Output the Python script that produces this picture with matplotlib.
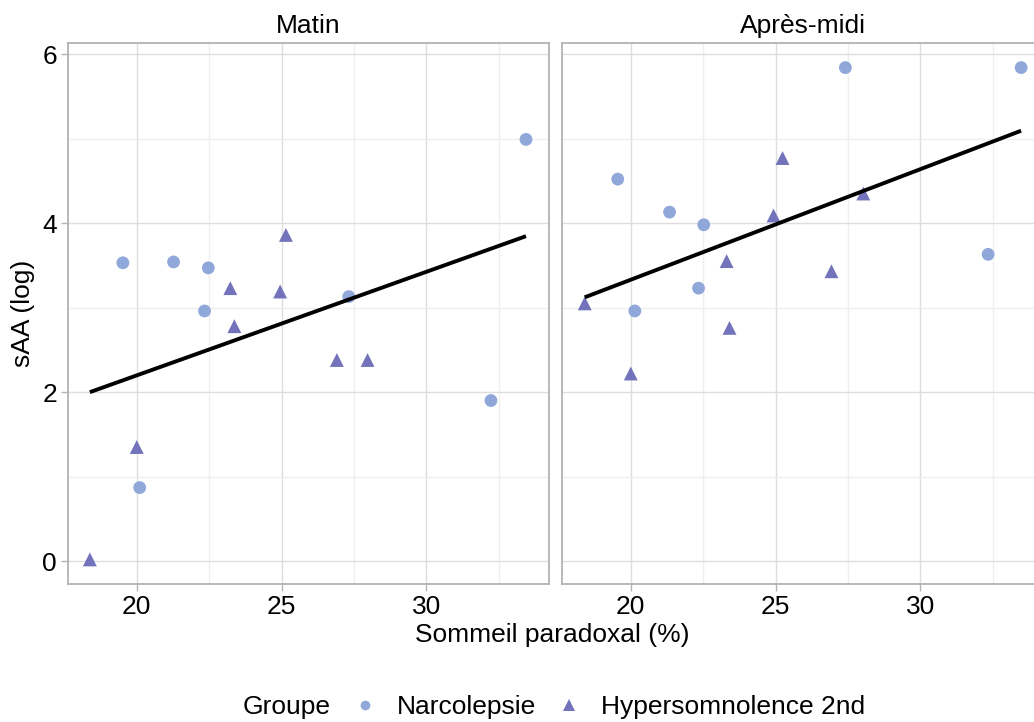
import numpy as np
import matplotlib
matplotlib.use("Agg")
import matplotlib.pyplot as plt
from matplotlib.lines import Line2D
from matplotlib.ticker import MultipleLocator

plt.rcParams['font.family'] = ['Liberation Sans', 'DejaVu Sans']

# ---- data ----
panels = ["Matin", "Après-midi"]
groups = ["Narcolepsie", "Hypersomnolence 2nd"]

# Matin
matin_narco_x = [19.52, 21.27, 22.47, 22.34, 27.32, 33.44, 32.23, 20.10]
matin_narco_y = [3.53, 3.54, 3.47, 2.96, 3.13, 4.99, 1.90, 0.87]
matin_hyper_x = [18.38, 20.00, 23.23, 23.37, 24.95, 25.15, 26.91, 27.97]
matin_hyper_y = [0.02, 1.35, 3.23, 2.78, 3.19, 3.86, 2.38, 2.38]

# Après-midi
am_narco_x = [19.55, 21.34, 22.52, 22.34, 20.14, 27.41, 33.48, 32.34]
am_narco_y = [4.52, 4.13, 3.98, 3.23, 2.96, 5.84, 5.84, 3.63]
am_hyper_x = [18.41, 20.00, 23.31, 23.41, 24.93, 25.24, 26.93, 28.03]
am_hyper_y = [3.05, 2.22, 3.55, 2.76, 4.09, 4.77, 3.43, 4.35]

x_ticks = [20, 25, 30]
y_ticks = [0, 2, 4, 6]

data = {
    "Matin": (matin_narco_x, matin_narco_y, matin_hyper_x, matin_hyper_y),
    "Après-midi": (am_narco_x, am_narco_y, am_hyper_x, am_hyper_y),
}

c_narco = "#90A8D9"
c_hyper = "#7373BB"
fs = 19

W, H = 1034, 722
fig = plt.figure(figsize=(W / 100, H / 100), dpi=100)

def ax_rect(x0, y0, x1, y1):
    return [x0 / W, 1 - y1 / H, (x1 - x0) / W, (y1 - y0) / H]

rects = [ax_rect(68, 43, 549, 584), ax_rect(562, 43, 1043, 584)]

allx = matin_narco_x + matin_hyper_x + am_narco_x + am_hyper_x
ally = matin_narco_y + matin_hyper_y + am_narco_y + am_hyper_y
xr = max(allx) - min(allx)
yr = max(ally) - min(ally)
xlim = (min(allx) - 0.05 * xr, max(allx) + 0.05 * xr)
ylim = (min(ally) - 0.05 * yr, max(ally) + 0.05 * yr)

for i, name in enumerate(panels):
    ax = fig.add_axes(rects[i])
    nx, ny, hx, hy = data[name]
    ax.set_xlim(*xlim)
    ax.set_ylim(*ylim)
    ax.set_xticks(x_ticks)
    ax.set_yticks(y_ticks)
    ax.xaxis.set_minor_locator(MultipleLocator(2.5))
    ax.yaxis.set_minor_locator(MultipleLocator(1))
    ax.grid(True, which='major', color='#DEDEDE', lw=1.0, zorder=0)
    ax.grid(True, which='minor', color='#EFEFEF', lw=1.0, zorder=0)
    ax.set_axisbelow(True)
    for s in ax.spines.values():
        s.set_color('#B3B3B3')
        s.set_linewidth(1.3)
    ax.tick_params(which='major', length=5, color='#B3B3B3', width=1.0,
                   labelsize=fs, pad=3)
    ax.tick_params(which='minor', length=0)
    if i == 1:
        ax.tick_params(axis='y', which='both', length=0, labelleft=False)
    ax.scatter(nx, ny, s=85, marker='o', color=c_narco, edgecolors='none', zorder=3)
    ax.scatter(hx, hy, s=100, marker='^', color=c_hyper, edgecolors='none', zorder=3)
    xs = np.array(nx + hx)
    ys = np.array(ny + hy)
    b, a = np.polyfit(xs, ys, 1)
    xl = np.array([xs.min(), xs.max()])
    ax.plot(xl, a + b * xl, color='black', lw=2.8, zorder=4, solid_capstyle='butt')
    ax.set_title(name, fontsize=fs, pad=7)
    if i == 0:
        ax.set_ylabel("sAA (log)", fontsize=fs, labelpad=5)

fig.text(552 / W, 1 - 635 / H, "Sommeil paradoxal (%)", fontsize=fs,
         ha='center', va='center')

fig.text(243 / W, 1 - 707 / H, "Groupe", fontsize=fs, ha='left', va='center')
handles = [
    Line2D([], [], marker='o', ls='none', color=c_narco, markersize=7, markeredgewidth=0),
    Line2D([], [], marker='^', ls='none', color=c_hyper, markersize=8.5, markeredgewidth=0),
]
fig.legend(handles, groups, loc='center left', bbox_to_anchor=(352 / W, 1 - 707 / H),
           ncol=2, frameon=False, fontsize=fs, handlelength=1.0, handletextpad=0.7,
           columnspacing=0.75, borderaxespad=0, borderpad=0)

fig.savefig("out.png", dpi=100)
